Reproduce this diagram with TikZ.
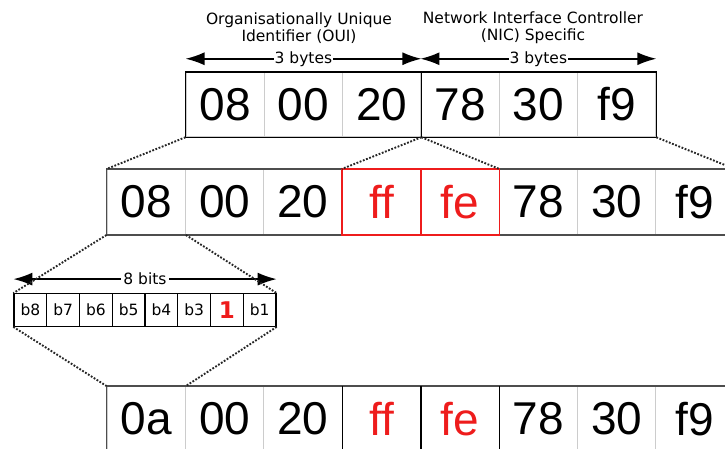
\documentclass[tikz,border=0pt]{standalone}
\usepackage{fontspec}
\newfontfamily\bytefont[Ligatures=NoCommon]{Liberation Sans}
\newfontfamily\notefont{DejaVu Sans}
\usetikzlibrary{arrows.meta}
\definecolor{cellgray}{HTML}{CCCCCC}
\definecolor{rimgray}{HTML}{4D4D4D}
\definecolor{flipred}{HTML}{EE1C1C}
\tikzset{
  bytecell/.style={draw=cellgray,line width=1pt,minimum width=78.4pt,minimum height=65pt,
    inner sep=0pt,font=\bytefont\fontsize{46}{48}\selectfont},
  bitcell/.style={draw=black,line width=1.3pt,minimum width=32.75pt,minimum height=32.5pt,
    inner sep=0pt,font=\notefont\fontsize{15.5}{17}\selectfont},
  notetext/.style={align=center,font=\notefont\fontsize{15.5}{17}\selectfont},
  spanarrow/.style={line width=1.6pt,{Latex[length=19pt,width=13pt]}-{Latex[length=19pt,width=13pt]}},
  zoomline/.style={dash pattern=on 1.8pt off 1.6pt,line width=1.9pt,black!85},
}

\begin{document}
\begin{tikzpicture}[x=1pt,y=-1pt]
  \useasboundingbox (0,0) rectangle (725,448);
  \clip (0,0) rectangle (725,448);
  % original MAC address
  \foreach \i/\v in {1/08,2/00,3/20,4/78,5/30,6/f9} {
      \node[bytecell,minimum width=78.3pt,minimum height=64.5pt] (t\i) at (186+78.3*\i-39.15,104.5) {\v};
  }
  \draw[line width=1.5pt] (t1.north west) rectangle (t6.south east);
  \draw[line width=1.5pt] (t3.north east) -- (t3.south east);
  \draw[spanarrow] ([yshift=13pt]t1.north west) -- ([yshift=13pt]t3.north east)
      node[midway,fill=white,inner sep=1pt,notetext] {3 bytes};
  \draw[spanarrow] ([yshift=13pt]t4.north west) -- ([yshift=13pt]t6.north east)
      node[midway,fill=white,inner sep=1pt,notetext] {3 bytes};
  \node[notetext] (oui) at (299,28) {Organisationally Unique\\Identifier (OUI)};
  \node[notetext] (nic) at (533,28) {Network Interface Controller\\(NIC) Specific};

  % ff fe inserted in the middle
  \foreach \i/\v/\c in {1/08/black,2/00/black,3/20/black,4/ff/flipred,5/fe/flipred,6/78/black,7/30/black,8/f9/black} {
      \node[bytecell,text=\c] (m\i) at (107+78.4*\i-39.2,202) {\v};
  }
  \draw[rimgray,line width=1.5pt] (m1.north west) rectangle (m8.south east);
  \draw[flipred,line width=1.6pt] (m4.north west) rectangle (m5.south east);
  \draw[flipred,line width=1.6pt] (m4.north east) -- (m4.south east);
  \draw[zoomline] (t1.south west) -- (m1.north west);
  \draw[zoomline] (t3.south east) -- (m4.north west);
  \draw[zoomline] (t3.south east) -- (m5.north east);
  \draw[zoomline] (t6.south east) -- (m8.north east);

  % bits of the first byte
  \foreach \i/\v in {1/b8,2/b7,3/b6,4/b5,5/b4,6/b3,7/{},8/b1} {
      \node[bitcell] (b\i) at (14+32.75*\i-16.375,310) {\v};
  }
  \node[text=flipred,font=\notefont\bfseries\fontsize{23}{25}\selectfont] (flip) at (b7) {1};
  \draw[spanarrow] ([yshift=14pt]b1.north west) -- ([yshift=14pt]b8.north east)
      node[midway,fill=white,inner sep=2pt,notetext] {8 bits};
  \draw[zoomline] (m1.south west) -- (b1.north west);
  \draw[zoomline] (m1.south east) -- (b8.north east);

  % modified EUI-64
  \foreach \i/\v/\c in {1/0a/black,2/00/black,3/20/black,4/ff/flipred,5/fe/flipred,6/78/black,7/30/black,8/f9/black} {
      \node[bytecell,text=\c] (l\i) at (107+78.4*\i-39.2,419) {\v};
  }
  \draw[rimgray,line width=1.5pt] (l1.north west) rectangle (l8.south east);
  \foreach \i in {3,4,5} {
      \draw[line width=1.5pt] (l\i.north east) -- (l\i.south east);
  }
  \draw[zoomline] (b1.south west) -- (l1.north west);
  \draw[zoomline] (b8.south east) -- (l1.north east);
\end{tikzpicture}
\end{document}
